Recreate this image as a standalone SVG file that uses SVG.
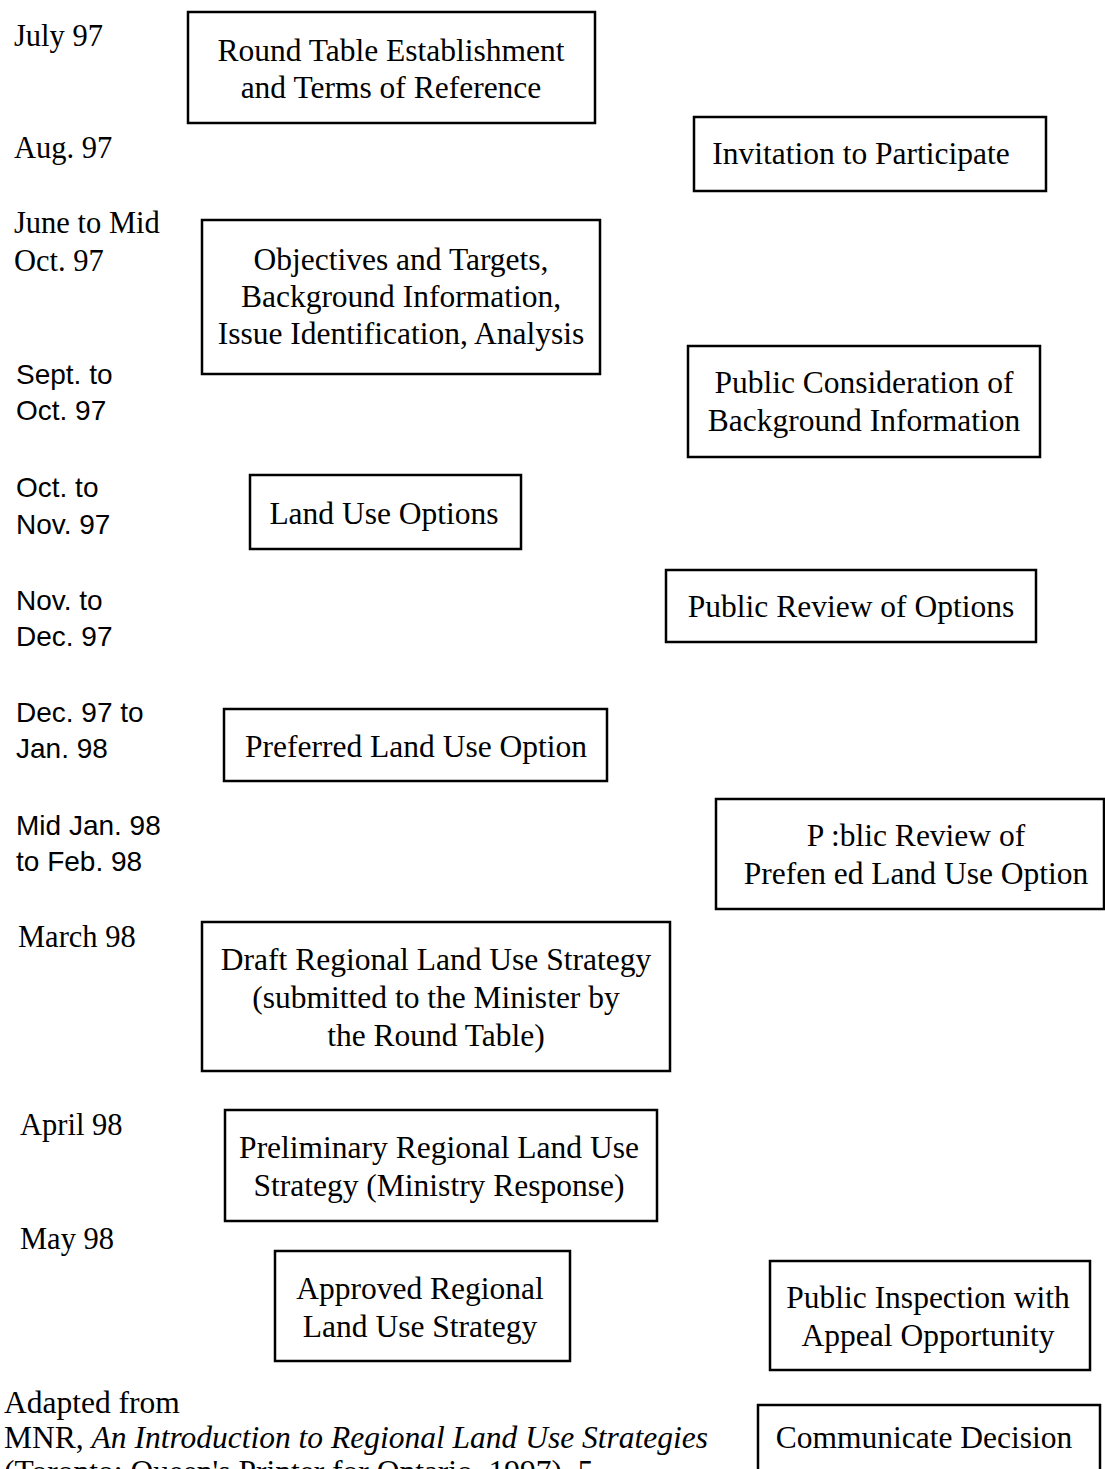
<svg xmlns="http://www.w3.org/2000/svg" width="1105" height="1469" viewBox="0 0 1105 1469">
<style>
.box{fill:#fff;stroke:#000;stroke-width:2.5}
.t{font-family:"Liberation Serif","Times New Roman",serif;font-size:31.5px;fill:#000;text-anchor:middle}
.d{font-family:"Liberation Serif","Times New Roman",serif;font-size:30.5px;fill:#000}
.ds{font-family:"Liberation Sans",Arial,sans-serif;font-size:28px;fill:#000}
.n{font-family:"Liberation Serif","Times New Roman",serif;font-size:31.5px;fill:#000}
</style>
<rect width="1105" height="1469" fill="#fff"/>
<g id="dates">
<text class="d" x="14" y="46">July 97</text>
<text class="d" x="14" y="158">Aug. 97</text>
<text class="d" x="14" y="233">June to Mid</text>
<text class="d" x="14" y="271">Oct. 97</text>
<text class="ds" x="16" y="384">Sept. to</text>
<text class="ds" x="16" y="420">Oct. 97</text>
<text class="ds" x="16" y="497">Oct. to</text>
<text class="ds" x="16" y="534">Nov. 97</text>
<text class="ds" x="16" y="610">Nov. to</text>
<text class="ds" x="16" y="646">Dec. 97</text>
<text class="ds" x="16" y="722">Dec. 97 to</text>
<text class="ds" x="16" y="758">Jan. 98</text>
<text class="ds" x="16" y="835">Mid Jan. 98</text>
<text class="ds" x="16" y="871">to Feb. 98</text>
<text class="d" x="18" y="947">March 98</text>
<text class="d" x="20" y="1135">April 98</text>
<text class="d" x="20" y="1249">May 98</text>
</g>
<g id="connectors"></g>
<g id="n1"><rect class="box" x="188" y="12" width="407" height="111"/>
<text class="t" x="391" y="61">Round Table Establishment</text>
<text class="t" x="391" y="98">and Terms of Reference</text></g>
<g id="n2"><rect class="box" x="694" y="117" width="352" height="74"/>
<text class="t" x="861" y="164">Invitation to Participate</text></g>
<g id="n3"><rect class="box" x="202" y="220" width="398" height="154"/>
<text class="t" x="401" y="270">Objectives and Targets,</text>
<text class="t" x="401" y="307">Background Information,</text>
<text class="t" x="401" y="344">Issue Identification, Analysis</text></g>
<g id="n4"><rect class="box" x="688" y="346" width="352" height="111"/>
<text class="t" x="864" y="393">Public Consideration of</text>
<text class="t" x="864" y="431">Background Information</text></g>
<g id="n5"><rect class="box" x="250" y="475" width="271" height="74"/>
<text class="t" x="384" y="524">Land Use Options</text></g>
<g id="n6"><rect class="box" x="666" y="570" width="370" height="72"/>
<text class="t" x="851" y="617">Public Review of Options</text></g>
<g id="n7"><rect class="box" x="224" y="709" width="383" height="72"/>
<text class="t" x="416" y="757">Preferred Land Use Option</text></g>
<g id="n8"><rect class="box" x="716" y="799" width="388" height="110"/>
<text class="t" x="916" y="846">P :blic Review of</text>
<text class="t" x="916" y="884">Prefen ed Land Use Option</text></g>
<g id="n9"><rect class="box" x="202" y="922" width="468" height="149"/>
<text class="t" x="436" y="970">Draft Regional Land Use Strategy</text>
<text class="t" x="436" y="1008">(submitted to the Minister by</text>
<text class="t" x="436" y="1046">the Round Table)</text></g>
<g id="n10"><rect class="box" x="225" y="1110" width="432" height="111"/>
<text class="t" x="439" y="1158">Preliminary Regional Land Use</text>
<text class="t" x="439" y="1196">Strategy (Ministry Response)</text></g>
<g id="n11"><rect class="box" x="275" y="1251" width="295" height="110"/>
<text class="t" x="420" y="1299">Approved Regional</text>
<text class="t" x="420" y="1337">Land Use Strategy</text></g>
<g id="n12"><rect class="box" x="770" y="1261" width="320" height="109"/>
<text class="t" x="928" y="1308">Public Inspection with</text>
<text class="t" x="928" y="1346">Appeal Opportunity</text></g>
<g id="n13"><rect class="box" x="758" y="1405" width="342" height="80"/>
<text class="t" x="924" y="1448">Communicate Decision</text></g>
<g id="note">
<text class="n" x="4" y="1413">Adapted from</text>
<text class="n" x="4" y="1448">MNR, <tspan font-style="italic">An Introduction to Regional Land Use Strategies</tspan></text>
<text class="n" x="4" y="1482">(Toronto: Queen's Printer for Ontario, 1997), 5.</text>
</g>
</svg>
